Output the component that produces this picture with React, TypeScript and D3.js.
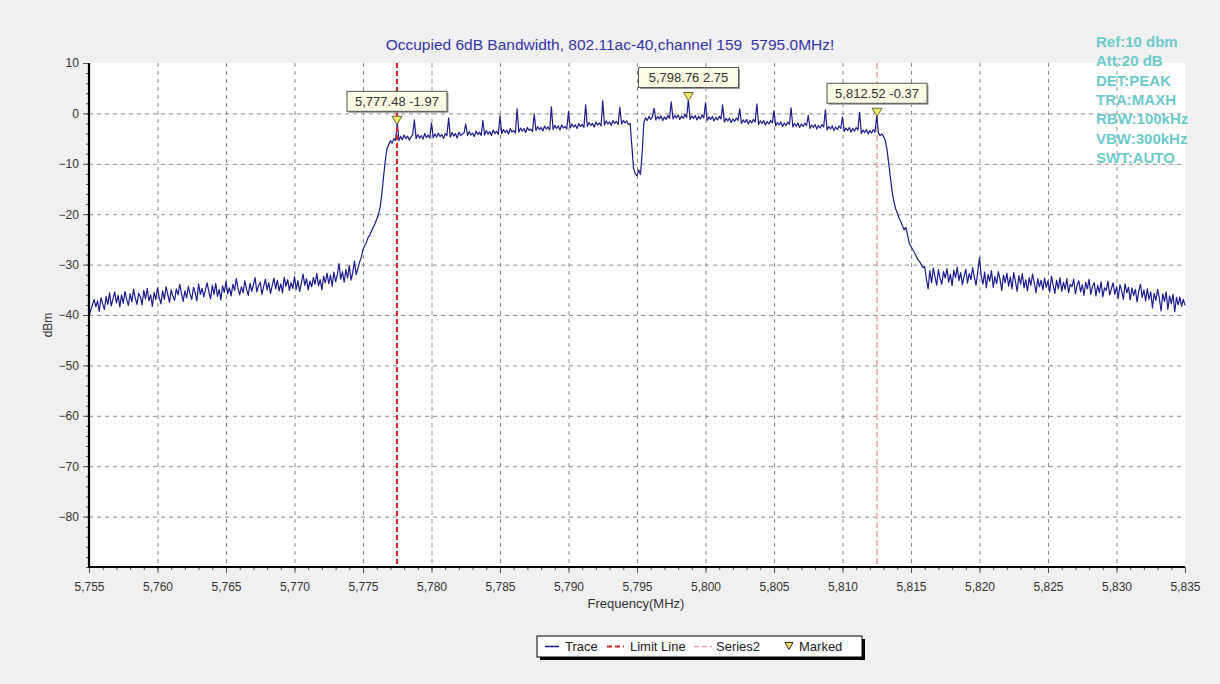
import React, { useEffect, useRef } from 'react';
import * as d3 from 'd3';

// sweep settings (MHz)
const traceStart = 5755;
const traceStep = 0.125;

// trace readings in dBm, split by region of the sweep (one row = 1.25 MHz)
const noiseLeft = [
  -40.2, -39.1, -38.0, -36.9, -38.4, -37.2, -39.3, -36.6, -37.8, -38.9,
  -36.3, -37.9, -35.6, -38.2, -36.8, -35.4, -37.6, -36.1, -38.4, -36.0,
  -37.7, -35.3, -36.9, -38.1, -35.8, -37.4, -34.9, -36.6, -37.9, -35.7,
  -36.4, -38.0, -35.1, -36.8, -34.7, -37.2, -36.0, -38.3, -35.5, -36.9,
  -34.6, -36.5, -37.8, -35.2, -36.9, -34.4, -35.9, -37.5, -35.0, -36.3,
  -37.1, -34.8, -36.0, -33.9, -35.7, -37.3, -35.2, -36.6, -34.3, -35.8,
  -36.9, -34.5, -35.6, -37.2, -33.8, -35.9, -34.7, -36.4, -35.0, -33.6,
  -35.4, -36.8, -34.1, -35.9, -33.7, -36.3, -34.9, -37.0, -34.2, -35.5,
  -33.3, -35.8, -34.6, -36.2, -33.9, -35.1, -32.8, -34.7, -36.0, -34.4,
  -35.6, -33.2, -34.9, -36.1, -33.7, -35.3, -34.0, -32.6, -35.4, -34.2,
  -33.5, -35.9, -34.3, -32.9, -35.0, -33.6, -35.7, -34.1, -32.7, -34.8,
  -33.1, -35.2, -33.8, -35.6, -32.5, -34.3, -33.0, -35.1, -33.6, -34.7,
  -32.4, -34.9, -33.2, -35.3, -33.7, -31.9, -34.1, -32.8, -35.0, -33.3,
  -34.4, -32.6, -33.9, -31.8, -34.2, -33.0, -35.0, -32.3, -33.6, -31.7,
  -33.8, -32.1, -34.3, -31.5, -33.4, -32.0, -29.8, -32.9, -31.4, -33.5,
  -31.0, -32.7, -30.2, -33.1, -31.6, -29.3, -32.0, -30.8, -29.5, -28.6,
];
const skirtLeft = [
  -27.0, -26.2, -25.6, -24.6, -24.1, -23.3, -22.6, -21.9, -21.0, -20.1,
  -18.6, -16.0, -12.6, -9.4, -7.0, -6.2, -5.4, -5.9, -5.0, -5.4,
];
const inBand = [
  -1.97, -5.4, -4.6, -5.2, -4.3, -5.0, -4.5, -5.3, -4.7, -4.2,
  -1.3, -5.0, -4.2, -4.9, -4.4, -5.1, -4.0, -4.8, -4.3, -4.9,
  -1.9, -4.8, -4.1, -4.7, -3.9, -4.6, -4.2, -5.0, -4.0, -4.4,
  -0.9, -4.7, -3.8, -4.5, -4.0, -4.9, -3.7, -4.4, -4.1, -3.9,
  -2.1, -4.4, -3.6, -4.3, -3.9, -4.6, -3.5, -4.2, -3.7, -4.4,
  -1.4, -4.3, -3.4, -4.1, -3.6, -4.4, -3.3, -4.0, -3.5, -4.2,
  -0.5, -4.0, -3.2, -3.8, -3.3, -4.1, -3.0, -3.7, -3.4, -3.9,
  0.9, -3.7, -2.9, -3.5, -3.0, -3.8, -2.8, -3.4, -3.1, -3.6,
  -0.1, -3.4, -2.6, -3.2, -2.8, -3.5, -2.5, -3.1, -2.7, -3.3,
  1.3, -3.2, -2.4, -3.0, -2.5, -3.3, -2.3, -2.9, -2.6, -3.1,
  0.4, -2.9, -2.1, -2.7, -2.3, -3.0, -2.0, -2.6, -2.2, -2.8,
  1.7, -2.6, -1.8, -2.4, -2.0, -2.7, -1.7, -2.3, -1.9, -2.5,
  2.5, -2.3, -1.5, -2.1, -1.7, -2.4, -1.4, -2.0, -1.6, -2.2,
  1.2, -2.1, -1.4, -1.9, -1.5, -2.2, -2.0, -6.5, -11.0, -12.0,
  -12.4, -11.2, -12.1, -8.0, -1.8, -0.9, -1.4, -0.6, -1.2, -0.7,
  1.0, -1.3, -0.6, -1.1, -0.5, -1.4, -0.7, -1.2, -0.4, -1.0,
  2.3, -1.1, -0.4, -0.9, -0.3, -1.2, -0.5, -1.0, -0.2, -0.8,
  2.75, -1.2, -0.5, -1.0, -0.4, -1.3, -0.6, -1.1, -0.3, -0.9,
  2.1, -1.4, -0.7, -1.2, -0.6, -1.5, -0.8, -1.3, -0.6, -1.1,
  1.7, -1.7, -1.0, -1.5, -0.9, -1.8, -1.1, -1.6, -0.9, -1.4,
  0.9, -2.0, -1.3, -1.8, -1.2, -2.1, -1.4, -1.9, -1.2, -1.7,
  1.9, -2.2, -1.5, -2.0, -1.4, -2.3, -1.6, -2.1, -1.4, -1.9,
  0.5, -2.5, -1.8, -2.3, -1.7, -2.6, -1.9, -2.4, -1.7, -2.2,
  1.1, -2.7, -2.0, -2.5, -1.9, -2.8, -2.1, -2.6, -1.9, -2.4,
  -0.4, -3.0, -2.3, -2.8, -2.2, -3.1, -2.4, -2.9, -2.2, -2.7,
  0.7, -3.3, -2.6, -3.1, -2.5, -3.4, -2.7, -3.2, -2.5, -3.0,
  -0.7, -3.6, -2.9, -3.4, -2.8, -3.7, -3.0, -3.5, -2.8, -3.3,
  0.2, -4.0, -3.3, -3.8, -3.2, -4.1, -3.4, -3.9, -3.2, -3.7,
  -0.37, -3.9, -4.4, -4.1,
];
const skirtRight = [
  -4.6, -5.4, -7.2, -10.0, -12.8, -15.6, -17.4, -18.9, -19.7, -20.8,
  -21.4, -22.3, -23.1, -22.6, -24.2, -25.8, -26.4, -27.0, -27.6, -28.3,
  -29.0, -29.4, -30.0, -30.6,
];
const noiseRight = [
  -30.4, -32.9, -34.8, -31.2, -33.6, -30.7, -32.4, -34.1, -31.0, -32.8,
  -33.9, -31.4, -32.7, -30.8, -33.5, -31.9, -34.2, -31.1, -32.6, -30.5,
  -33.2, -31.6, -34.0, -32.3, -30.9, -33.7, -31.8, -33.0, -30.6, -32.5,
  -34.1, -31.3, -28.6, -32.2, -33.9, -31.5, -34.6, -32.0, -33.3, -31.2,
  -34.5, -32.4, -33.8, -31.4, -33.0, -35.1, -32.1, -33.6, -31.7, -34.3,
  -32.5, -34.8, -31.6, -33.4, -35.3, -32.2, -33.9, -31.8, -34.6, -33.0,
  -35.2, -32.6, -34.1, -31.9, -33.7, -35.6, -32.8, -34.4, -33.1, -35.0,
  -32.7, -34.5, -33.2, -35.4, -32.3, -34.0, -35.7, -33.1, -34.8, -32.6,
  -35.3, -33.5, -34.9, -32.8, -35.6, -33.9, -34.4, -32.9, -35.8, -34.1,
  -33.2, -35.4, -34.0, -36.1, -33.5, -34.8, -32.9, -35.9, -34.3, -33.6,
  -36.2, -34.1, -35.5, -33.4, -36.4, -34.6, -35.1, -33.3, -36.0, -34.8,
  -33.6, -35.9, -34.4, -36.7, -34.0, -35.2, -36.9, -33.8, -35.6, -34.5,
  -37.0, -34.6, -36.1, -34.9, -37.4, -35.3, -33.9, -36.5, -35.0, -37.2,
  -34.8, -36.9, -35.4, -38.6, -35.7, -37.1, -34.9, -36.6, -39.2, -35.8,
  -37.3, -35.4, -38.9, -36.2, -37.8, -35.9, -39.4, -36.5, -38.0, -36.4,
  -38.3, -36.9, -38.1,
];

const markerFreqs = [5777.48, 5798.76, 5812.52];
const markerValues = [-1.97, 2.75, -0.37];
const limitFreq = 5777.48;
const series2Freq = 5812.52;

const xTicks = [5755, 5760, 5765, 5770, 5775, 5780, 5785, 5790, 5795, 5800, 5805, 5810, 5815, 5820, 5825, 5830, 5835];
const yTicks = [10, 0, -10, -20, -30, -40, -50, -60, -70, -80];

const title = 'Occupied 6dB Bandwidth, 802.11ac-40,channel 159  5795.0MHz!';
const infoLines = ['Ref:10 dbm', 'Att:20 dB', 'DET:PEAK', 'TRA:MAXH', 'RBW:100kHz', 'VBW:300kHz', 'SWT:AUTO'];

const FONT = '"Liberation Sans", Arial, sans-serif';

export default function App() {
  const svgRef = useRef<SVGSVGElement>(null);

  useEffect(() => {
    if (!svgRef.current) return;
    const svg = d3.select(svgRef.current);
    svg.selectAll('*').remove();

    const W = 1220, H = 684;
    const plot = { left: 89, right: 1185, top: 63, bottom: 567 };

    const x = d3.scaleLinear().domain([5755, 5835]).range([plot.left, plot.right]);
    const y = d3.scaleLinear().domain([10, -90]).range([plot.top, plot.bottom]);

    const values = [...noiseLeft, ...skirtLeft, ...inBand, ...skirtRight, ...noiseRight];
    const trace = values.map((v, i) => ({ f: traceStart + i * traceStep, v }));

    svg.append('rect').attr('width', W).attr('height', H).attr('fill', '#f0f0f0');
    svg.append('rect')
      .attr('x', plot.left).attr('y', plot.top)
      .attr('width', plot.right - plot.left).attr('height', plot.bottom - plot.top)
      .attr('fill', '#ffffff');

    // title
    svg.append('text')
      .attr('x', 610).attr('y', 50)
      .attr('text-anchor', 'middle')
      .style('white-space', 'pre')
      .attr('font-family', FONT).attr('font-size', 15.5)
      .attr('fill', '#3535a8')
      .text(title);

    // grid
    const grid = svg.append('g').attr('stroke', '#8c8c8c').attr('stroke-width', 1).attr('stroke-dasharray', '4,4');
    grid.selectAll('line.v')
      .data(xTicks.slice(1, -1))
      .join('line')
      .attr('x1', d => x(d) + 0.5).attr('x2', d => x(d) + 0.5)
      .attr('y1', plot.top).attr('y2', plot.bottom);
    grid.selectAll('line.h')
      .data(yTicks.slice(1))
      .join('line')
      .attr('x1', plot.left).attr('x2', plot.right)
      .attr('y1', d => y(d) + 0.5).attr('y2', d => y(d) + 0.5);

    // axes
    const xAxis = d3.axisBottom(x).tickValues(xTicks).tickFormat(d3.format(',')).tickSize(6).tickSizeOuter(0);
    const xMinor = d3.axisBottom(x).tickValues(d3.range(5755, 5836, 1)).tickFormat(() => '').tickSize(3).tickSizeOuter(0);
    const yAxis = d3.axisLeft(y).tickValues(yTicks).tickSize(6).tickSizeOuter(0);
    const yMinor = d3.axisLeft(y).tickValues(d3.range(-90, 11, 2)).tickFormat(() => '').tickSize(3).tickSizeOuter(0);

    const styleAxis = (g: d3.Selection<SVGGElement, unknown, null, undefined>) => {
      g.select('.domain').remove();
      g.selectAll('.tick line').attr('stroke', '#555');
      g.selectAll('.tick text').attr('fill', '#333').attr('font-size', 12).attr('font-family', FONT);
    };

    svg.append('g').attr('transform', `translate(0,${plot.bottom})`).call(xMinor).call(styleAxis);
    svg.append('g').attr('transform', `translate(0,${plot.bottom})`).call(xAxis).call(styleAxis)
      .selectAll('.tick text').attr('dy', '1.25em');
    svg.append('g').attr('transform', `translate(${plot.left},0)`).call(yMinor).call(styleAxis);
    svg.append('g').attr('transform', `translate(${plot.left},0)`).call(yAxis).call(styleAxis)
      .selectAll('.tick text').attr('dx', '-0.1em');

    // series2 marker line
    svg.append('line')
      .attr('x1', x(series2Freq)).attr('x2', x(series2Freq))
      .attr('y1', plot.top).attr('y2', plot.bottom)
      .attr('stroke', '#f2a2aa').attr('stroke-width', 1.6).attr('stroke-dasharray', '6,3');

    // trace
    const line = d3.line<{ f: number; v: number }>().x(d => x(d.f)).y(d => y(d.v));
    svg.append('path')
      .datum(trace)
      .attr('fill', 'none')
      .attr('stroke', '#1c1c8e')
      .attr('stroke-width', 1.2)
      .attr('stroke-linejoin', 'round')
      .attr('d', line);

    // limit line
    svg.append('line')
      .attr('x1', x(limitFreq)).attr('x2', x(limitFreq))
      .attr('y1', plot.top).attr('y2', plot.bottom)
      .attr('stroke', '#d42a2a').attr('stroke-width', 2.2).attr('stroke-dasharray', '5,3');

    // axis lines
    svg.append('line').attr('x1', plot.left).attr('x2', plot.left).attr('y1', plot.top).attr('y2', plot.bottom + 1)
      .attr('stroke', '#000').attr('stroke-width', 2.2);
    svg.append('line').attr('x1', plot.left - 1).attr('x2', plot.right).attr('y1', plot.bottom).attr('y2', plot.bottom)
      .attr('stroke', '#000').attr('stroke-width', 2.2);

    // markers + labels
    const fmtF = d3.format(',.2f');
    markerFreqs.forEach((f, i) => {
      const v = markerValues[i];
      const px = x(f), py = y(v);
      const label = `${fmtF(f)} ${v.toFixed(2)}`;
      const bw = 100, bh = 20;
      const by = py - 12 - bh;
      svg.append('rect')
        .attr('x', px - bw / 2 + 1.5).attr('y', by + 1.5).attr('width', bw).attr('height', bh)
        .attr('fill', '#9a9a9a');
      svg.append('rect')
        .attr('x', px - bw / 2).attr('y', by).attr('width', bw).attr('height', bh)
        .attr('fill', '#fbfbe6').attr('stroke', '#555').attr('stroke-width', 1);
      svg.append('text')
        .attr('x', px).attr('y', by + 14.5)
        .attr('text-anchor', 'middle')
        .attr('font-family', FONT).attr('font-size', 13).attr('fill', '#333')
        .text(label);
      svg.append('path')
        .attr('d', `M${px - 5},${py - 7} L${px + 5},${py - 7} L${px},${py + 1} Z`)
        .attr('fill', '#f2e66a').attr('stroke', '#6b6b3a').attr('stroke-width', 1);
    });

    // instrument settings
    svg.append('g').selectAll('text')
      .data(infoLines)
      .join('text')
      .attr('x', 1096).attr('y', (_, i) => 47 + i * 19.3)
      .attr('font-family', FONT).attr('font-size', 15).attr('font-weight', 'bold')
      .attr('fill', '#6ccaca')
      .text(d => d);

    // axis titles
    svg.append('text')
      .attr('x', 636).attr('y', 608)
      .attr('text-anchor', 'middle')
      .attr('font-family', FONT).attr('font-size', 13).attr('fill', '#333')
      .text('Frequency(MHz)');
    svg.append('text')
      .attr('transform', 'translate(52,325) rotate(-90)')
      .attr('text-anchor', 'middle')
      .attr('font-family', FONT).attr('font-size', 12).attr('fill', '#333')
      .text('dBm');

    // legend
    const lg = svg.append('g').attr('transform', 'translate(537,636)');
    lg.append('rect').attr('x', 3).attr('y', 3).attr('width', 325).attr('height', 21).attr('fill', '#000');
    lg.append('rect').attr('x', 0).attr('y', 0).attr('width', 325).attr('height', 21)
      .attr('fill', '#fff').attr('stroke', '#000').attr('stroke-width', 1);
    const ly = 10.5;
    lg.append('line').attr('x1', 8).attr('x2', 22).attr('y1', ly).attr('y2', ly).attr('stroke', '#1c1c8e').attr('stroke-width', 1.5);
    lg.append('line').attr('x1', 70).attr('x2', 87).attr('y1', ly).attr('y2', ly)
      .attr('stroke', '#d42a2a').attr('stroke-width', 2.2).attr('stroke-dasharray', '5,3');
    lg.append('line').attr('x1', 157).attr('x2', 175).attr('y1', ly).attr('y2', ly)
      .attr('stroke', '#f2a2aa').attr('stroke-width', 1.6).attr('stroke-dasharray', '5,3');
    lg.append('path').attr('d', `M248,${ly - 4} L256,${ly - 4} L252,${ly + 3} Z`)
      .attr('fill', '#f2e66a').attr('stroke', '#333').attr('stroke-width', 1);
    const legendText = [
      { tx: 28, t: 'Trace' },
      { tx: 93, t: 'Limit Line' },
      { tx: 179, t: 'Series2' },
      { tx: 262, t: 'Marked' },
    ];
    lg.selectAll('text.lt')
      .data(legendText)
      .join('text')
      .attr('x', d => d.tx).attr('y', 15)
      .attr('font-family', FONT).attr('font-size', 13).attr('fill', '#222')
      .text(d => d.t);
  }, []);

  return (
    <div style={{ position: 'absolute', left: 0, top: 0 }}>
      <svg ref={svgRef} width={1220} height={684} style={{ display: 'block' }} />
    </div>
  );
}
